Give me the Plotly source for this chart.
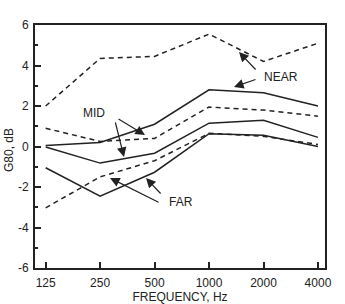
import plotly.graph_objects as go

freqs = [125, 250, 500, 1000, 2000, 4000]
freq_labels = ["125", "250", "500", "1000", "2000", "4000"]
y_ticks = [-6, -4, -2, 0, 2, 4, 6]
y_labels = ["-6", "-4", "-2", "0", "2", "4", "6"]

near_dashed = [2.0, 4.35, 4.45, 5.55, 4.2, 5.1]
near_solid = [0.05, 0.2, 1.1, 2.8, 2.65, 2.0]
mid_dashed = [0.9, 0.25, 0.4, 1.95, 1.8, 1.5]
mid_solid = [-0.02, -0.82, -0.33, 1.15, 1.3, 0.45]
far_dashed = [-3.03, -1.5, -0.7, 0.65, 0.5, 0.1]
far_solid = [-1.05, -2.45, -1.27, 0.63, 0.55, 0.0]

series = [
    (near_dashed, "dash"), (near_solid, "solid"),
    (mid_dashed, "dash"), (mid_solid, "solid"),
    (far_dashed, "dash"), (far_solid, "solid"),
]

fig = go.Figure()
for vals, dash in series:
    fig.add_trace(go.Scatter(
        x=freqs, y=vals, mode="lines",
        line=dict(color="#222", width=1.5, dash="5px,4px" if dash == "dash" else "solid"),
        showlegend=False, hoverinfo="skip"))

W, H = 345, 304
L, R, T, B = 35, 20, 25, 36
pw, ph = W - L - R, H - T - B

def px(x):
    return (x - L) / pw

def py(y):
    return (H - B - y) / ph

font = dict(family="Liberation Sans, Arial, sans-serif", size=12, color="#222")
labels = [("NEAR", 281, 77), ("MID", 94, 113), ("FAR", 181, 202)]
for txt, x, y in labels:
    fig.add_annotation(x=px(x), y=py(y), xref="paper", yref="paper", text=txt,
                       showarrow=False, font=font, xanchor="center", yanchor="middle")

arrows = [
    ((257, 71), (239, 52)), ((257, 79), (234, 87)),
    ((117, 118), (145, 135)), ((115, 121), (124, 157)),
    ((160, 203), (110, 178)), ((162, 195), (146, 178)),
]
for (tx, ty), (hx, hy) in arrows:
    fig.add_annotation(x=px(hx), y=py(hy), xref="paper", yref="paper",
                       ax=tx - hx, ay=ty - hy, axref="pixel", ayref="pixel",
                       text="", showarrow=True, arrowhead=2, arrowsize=1.6,
                       arrowwidth=1.2, arrowcolor="#222")

# y-axis title placed as rotated text
fig.add_annotation(x=px(9), y=py(150), xref="paper", yref="paper", text="G80, dB",
                   textangle=-90, showarrow=False, font=font,
                   xanchor="center", yanchor="middle")

fig.update_xaxes(type="log", range=[2.038, 3.641], tickvals=freqs, ticktext=freq_labels,
                 ticks="inside", ticklen=6, tickwidth=1.5, tickcolor="#222",
                 showline=True, linewidth=2, linecolor="#222", mirror=True,
                 showgrid=False, zeroline=False, automargin=False,
                 ticklabelstandoff=3,
                 title=dict(text="FREQUENCY, Hz", font=font, standoff=0),
                 tickfont=font)
fig.update_yaxes(range=[-6, 6], tickvals=y_ticks, ticktext=y_labels,
                 ticks="inside", ticklen=6, tickwidth=1.5, tickcolor="#222",
                 minor=dict(dtick=1, ticks="inside", ticklen=3, tickcolor="#222"),
                 showline=True, linewidth=2, linecolor="#222", mirror=True,
                 showgrid=False, zeroline=False, automargin=False,
                 ticklabelstandoff=2,
                 tickfont=font)
fig.update_layout(width=W, height=H, margin=dict(l=L, r=R, t=T, b=B),
                  plot_bgcolor="white", paper_bgcolor="white")
fig.write_html("out.html")
